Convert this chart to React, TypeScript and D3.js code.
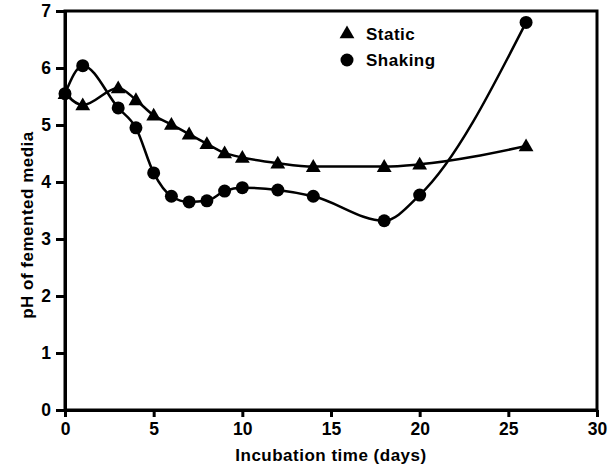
import React, { useEffect, useRef } from "react";
import * as d3 from "d3";

const days = [0, 1, 3, 4, 5, 6, 7, 8, 9, 10, 12, 14, 18, 20, 26];
const staticPh = [5.55, 5.35, 5.65, 5.44, 5.17, 5.01, 4.84, 4.67, 4.51, 4.43, 4.33, 4.27, 4.27, 4.31, 4.63];
const shakingPh = [5.55, 6.04, 5.3, 4.95, 4.16, 3.75, 3.65, 3.67, 3.84, 3.9, 3.86, 3.75, 3.32, 3.77, 6.8];
const xTicks = [0, 5, 10, 15, 20, 25, 30];
const yTicks = [0, 1, 2, 3, 4, 5, 6, 7];

const FONT = "'Liberation Sans', Arial, Helvetica, sans-serif";

const App = () => {
  const ref = useRef<SVGSVGElement | null>(null);
  const width = 610;
  const height = 472;

  useEffect(() => {
    const svg = d3.select(ref.current);
    svg.selectAll("*").remove();

    const left = 65, right = 597, top = 11, bottom = 410;
    const x = d3.scaleLinear().domain([0, 30]).range([left, right]);
    const y = d3.scaleLinear().domain([0, 7]).range([bottom, top]);

    // frame
    svg.append("rect")
      .attr("x", left).attr("y", top)
      .attr("width", right - left).attr("height", bottom - top)
      .attr("fill", "none").attr("stroke", "#000").attr("stroke-width", 3);

    const xAxis = svg.append("g")
      .attr("transform", `translate(0,${bottom})`)
      .call(d3.axisBottom(x).tickValues(xTicks).tickFormat(d3.format("d"))
        .tickSizeInner(7).tickSizeOuter(0).tickPadding(6));
    const yAxis = svg.append("g")
      .attr("transform", `translate(${left},0)`)
      .call(d3.axisLeft(y).tickValues(yTicks).tickFormat(d3.format("d"))
        .tickSizeInner(9).tickSizeOuter(0).tickPadding(5));

    [xAxis, yAxis].forEach(g => {
      g.select(".domain").attr("stroke-width", 3);
      g.selectAll(".tick line").attr("stroke-width", 3);
      g.selectAll(".tick text")
        .attr("font-family", FONT).attr("font-weight", "bold")
        .attr("font-size", 17.5).attr("fill", "#000");
    });

    const line = d3.line<number>()
      .x((d, i) => x(days[i]))
      .y(d => y(d))
      .curve(d3.curveMonotoneX);

    [staticPh, shakingPh].forEach(s => {
      svg.append("path")
        .attr("d", line(s) as string)
        .attr("fill", "none").attr("stroke", "#000").attr("stroke-width", 2.5);
    });

    const tri = d3.symbol().type(d3.symbolTriangle).size(95);
    svg.append("g").selectAll("path")
      .data(staticPh)
      .join("path")
      .attr("d", tri() as string)
      .attr("transform", (d, i) => `translate(${x(days[i])},${y(d) + 1})`)
      .attr("fill", "#000");

    svg.append("g").selectAll("circle")
      .data(shakingPh)
      .join("circle")
      .attr("cx", (d, i) => x(days[i]))
      .attr("cy", d => y(d))
      .attr("r", 6.5)
      .attr("fill", "#000");

    const label = (sel: any) => sel
      .attr("font-family", FONT).attr("font-weight", "bold")
      .attr("font-size", 17).attr("letter-spacing", 0.5).attr("fill", "#000");

    // legend
    svg.append("path").attr("d", tri() as string)
      .attr("transform", "translate(347,34)").attr("fill", "#000");
    svg.append("text").attr("x", 366).attr("y", 39.5).text("Static").call(label);
    svg.append("circle").attr("cx", 347).attr("cy", 60).attr("r", 6.5).attr("fill", "#000");
    svg.append("text").attr("x", 366).attr("y", 66).text("Shaking").call(label);

    // axis titles
    svg.append("text")
      .attr("x", (left + right) / 2).attr("y", 461)
      .attr("text-anchor", "middle")
      .text("Incubation time (days)").call(label);
    svg.append("text")
      .attr("transform", "translate(33,225) rotate(-90)")
      .attr("text-anchor", "middle")
      .text("pH of femented media").call(label);
  }, []);

  return (
    <svg ref={ref} width={width} height={height}
      style={{ position: "absolute", left: 0, top: 0, background: "#fff" }} />
  );
};

export default App;
